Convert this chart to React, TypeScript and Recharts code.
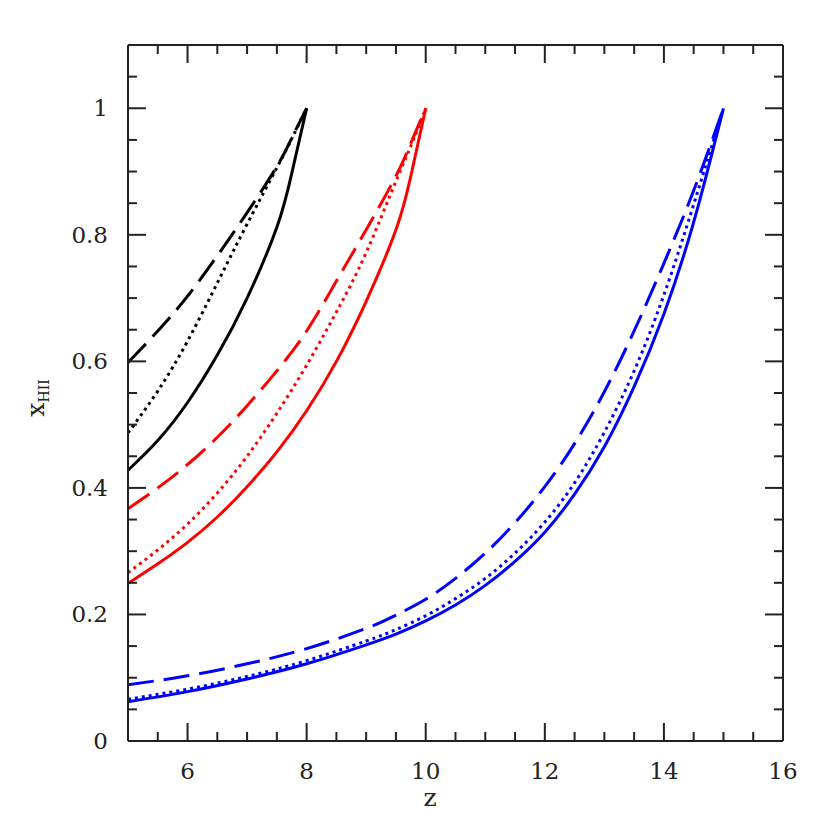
import { LineChart, Line, XAxis, YAxis } from "recharts";

// redshift grids for the three models
const blackZ = [5, 5.5, 6, 6.5, 7, 7.5, 7.75, 8];
const blackSolid = [0.428, 0.475, 0.535, 0.61, 0.7, 0.812, 0.897, 1.0];
const blackDotted = [0.487, 0.553, 0.632, 0.724, 0.817, 0.906, 0.952, 1.0];
const blackDashed = [0.598, 0.648, 0.703, 0.767, 0.835, 0.908, 0.953, 1.0];

const redZ = [5, 5.5, 6, 6.5, 7, 7.5, 8, 8.5, 9, 9.5, 9.75, 10];
const redSolid = [0.249, 0.28, 0.314, 0.354, 0.402, 0.457, 0.522, 0.6, 0.695, 0.808, 0.893, 1.0];
const redDotted = [0.266, 0.302, 0.343, 0.392, 0.45, 0.518, 0.594, 0.678, 0.772, 0.885, 0.94, 1.0];
const redDashed = [0.367, 0.4, 0.437, 0.48, 0.53, 0.585, 0.648, 0.727, 0.808, 0.893, 0.945, 1.0];

const blueZ = [5, 6, 7, 8, 9, 9.5, 10, 10.5, 11, 11.5, 12, 12.5, 13, 13.5, 14, 14.5, 15];
const blueSolid = [0.062, 0.078, 0.098, 0.122, 0.152, 0.169, 0.19, 0.215, 0.246, 0.284, 0.33, 0.39, 0.465, 0.56, 0.675, 0.82, 1.0];
const blueDotted = [0.066, 0.082, 0.102, 0.127, 0.158, 0.176, 0.198, 0.225, 0.257, 0.297, 0.346, 0.408, 0.488, 0.585, 0.705, 0.848, 1.0];
const blueDashed = [0.089, 0.103, 0.122, 0.146, 0.178, 0.199, 0.224, 0.257, 0.297, 0.345, 0.402, 0.47, 0.552, 0.648, 0.755, 0.87, 1.0];

// ticks
const xTicks = [5, 5.5, 6, 6.5, 7, 7.5, 8, 8.5, 9, 9.5, 10, 10.5, 11, 11.5, 12, 12.5, 13, 13.5, 14, 14.5, 15, 15.5, 16];
const xMajor = [6, 8, 10, 12, 14, 16];
const yTicks = [0, 0.05, 0.1, 0.15, 0.2, 0.25, 0.3, 0.35, 0.4, 0.45, 0.5, 0.55, 0.6, 0.65, 0.7, 0.75, 0.8, 0.85, 0.9, 0.95, 1, 1.05, 1.1];
const yMajor = [0, 0.2, 0.4, 0.6, 0.8, 1];

const toRows = (zs: number[], ys: number[]) => zs.map((z, i) => ({ z, y: ys[i] }));

const series = [
  { id: "bs", data: toRows(blackZ, blackSolid), color: "#000000", dash: undefined },
  { id: "bo", data: toRows(blackZ, blackDotted), color: "#000000", dash: "3 4" },
  { id: "bd", data: toRows(blackZ, blackDashed), color: "#000000", dash: "26 10" },
  { id: "rs", data: toRows(redZ, redSolid), color: "#ff0000", dash: undefined },
  { id: "ro", data: toRows(redZ, redDotted), color: "#ff0000", dash: "3 4" },
  { id: "rd", data: toRows(redZ, redDashed), color: "#ff0000", dash: "26 10" },
  { id: "us", data: toRows(blueZ, blueSolid), color: "#0000ff", dash: undefined },
  { id: "uo", data: toRows(blueZ, blueDotted), color: "#0000ff", dash: "3 4" },
  { id: "ud", data: toRows(blueZ, blueDashed), color: "#0000ff", dash: "26 10" },
];

const INK = "#222";
const FONT = "'DejaVu Serif', serif";

const isMajor = (list: number[], v: number) => list.some((m) => Math.abs(m - v) < 1e-9);

function BottomTick({ x, y, payload }: any) {
  const major = isMajor(xMajor, payload.value);
  return (
    <g>
      <line x1={x} y1={y} x2={x} y2={y - (major ? 18 : 9)} stroke={INK} strokeWidth={2} />
      {major && (
        <text x={x} y={y + 38} textAnchor="middle" fontFamily={FONT} fontSize={23} fill={INK}>
          {payload.value}
        </text>
      )}
    </g>
  );
}

function TopTick({ x, y, payload }: any) {
  const major = isMajor(xMajor, payload.value);
  return <line x1={x} y1={y} x2={x} y2={y + (major ? 18 : 9)} stroke={INK} strokeWidth={2} />;
}

function LeftTick({ x, y, payload }: any) {
  const major = isMajor(yMajor, payload.value);
  return (
    <g>
      <line x1={x} y1={y} x2={x + (major ? 18 : 9)} y2={y} stroke={INK} strokeWidth={2} />
      {major && (
        <text x={x - 20} y={y + 8} textAnchor="end" fontFamily={FONT} fontSize={23} fill={INK}>
          {payload.value}
        </text>
      )}
    </g>
  );
}

function RightTick({ x, y, payload }: any) {
  const major = isMajor(yMajor, payload.value);
  return <line x1={x} y1={y} x2={x - (major ? 18 : 9)} y2={y} stroke={INK} strokeWidth={2} />;
}

export default function App() {
  return (
    <div style={{ position: "absolute", left: 0, top: 0, width: 830, height: 830, background: "#fff" }}>
      <LineChart width={830} height={830} margin={{ top: 25, right: 27, bottom: 39, left: 68 }}>
        <XAxis
          type="number"
          dataKey="z"
          domain={[5, 16]}
          ticks={xTicks}
          interval={0}
          tickSize={0}
          tickMargin={0}
          tickLine={false}
          height={50}
          axisLine={{ stroke: INK, strokeWidth: 2 }}
          tick={<BottomTick />}
          allowDataOverflow
        />
        <XAxis
          xAxisId="top"
          orientation="top"
          type="number"
          dataKey="z"
          domain={[5, 16]}
          ticks={xTicks}
          interval={0}
          tickSize={0}
          tickMargin={0}
          tickLine={false}
          height={20}
          axisLine={{ stroke: INK, strokeWidth: 2 }}
          tick={<TopTick />}
          allowDataOverflow
        />
        <YAxis
          type="number"
          domain={[0, 1.1]}
          ticks={yTicks}
          interval={0}
          tickSize={0}
          tickMargin={0}
          tickLine={false}
          width={60}
          axisLine={{ stroke: INK, strokeWidth: 2 }}
          tick={<LeftTick />}
          allowDataOverflow
        />
        <YAxis
          yAxisId="right"
          orientation="right"
          type="number"
          domain={[0, 1.1]}
          ticks={yTicks}
          interval={0}
          tickSize={0}
          tickMargin={0}
          tickLine={false}
          width={20}
          axisLine={{ stroke: INK, strokeWidth: 2 }}
          tick={<RightTick />}
          allowDataOverflow
        />
        {series.map((s) => (
          <Line
            key={s.id}
            data={s.data}
            dataKey="y"
            type="natural"
            stroke={s.color}
            strokeWidth={3}
            strokeDasharray={s.dash}
            strokeLinecap="butt"
            dot={false}
            activeDot={false}
            isAnimationActive={false}
          />
        ))}
      </LineChart>
      <svg
        width={830}
        height={830}
        style={{ position: "absolute", left: 0, top: 0, pointerEvents: "none" }}
      >
        <text x={430} y={806} textAnchor="middle" fontFamily={FONT} fontSize={25} fill={INK}>
          z
        </text>
        <text
          transform="translate(44 398) rotate(-90)"
          textAnchor="middle"
          fontFamily={FONT}
          fontSize={25}
          fill={INK}
        >
          x
          <tspan fontSize={14} dy={5}>
            HII
          </tspan>
        </text>
      </svg>
    </div>
  );
}
